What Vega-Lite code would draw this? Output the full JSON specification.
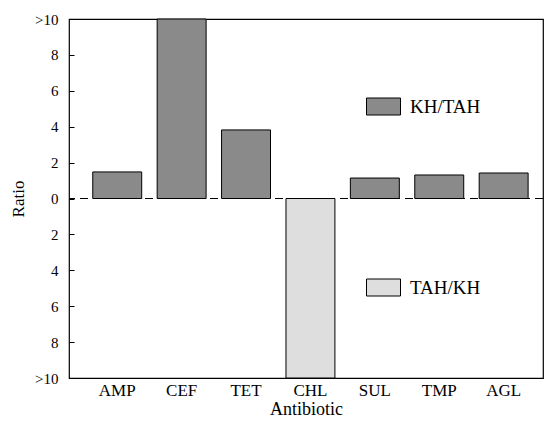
{
  "$schema": "https://vega.github.io/schema/vega-lite/v6.json",
  "width": 474,
  "height": 359,
  "autosize": "none",
  "padding": {"left": 69, "top": 19, "right": 4, "bottom": 44},
  "background": "white",
  "config": {
    "font": "Liberation Serif",
    "view": {"stroke": "#000", "strokeWidth": 1.2},
    "axis": {
      "grid": false,
      "domainColor": "#000",
      "tickColor": "#000",
      "labelColor": "#000",
      "titleColor": "#000",
      "labelFont": "Liberation Serif",
      "titleFont": "Liberation Serif",
      "titleFontWeight": "normal",
      "labelFontSize": 15,
      "titleFontSize": 17
    },
    "axisY": {
      "labelOverlap": false,
      "labelFlush": false,
      "ticks": true,
      "tickSize": 5,
      "tickWidth": 1,
      "offset": -5,
      "domain": false,
      "labelPadding": 11,
      "titlePadding": 7
    },
    "legend": {"labelFont": "Liberation Serif", "labelColor": "#000"}
  },
  "data": {
    "values": [
      {"Antibiotic": "AMP", "Ratio": 1.48, "Type": "KH/TAH"},
      {"Antibiotic": "CEF", "Ratio": 10, "Type": "KH/TAH"},
      {"Antibiotic": "TET", "Ratio": 3.82, "Type": "KH/TAH"},
      {"Antibiotic": "CHL", "Ratio": -10, "Type": "TAH/KH"},
      {"Antibiotic": "SUL", "Ratio": 1.14, "Type": "KH/TAH"},
      {"Antibiotic": "TMP", "Ratio": 1.31, "Type": "KH/TAH"},
      {"Antibiotic": "AGL", "Ratio": 1.42, "Type": "KH/TAH"}
    ]
  },
  "encoding": {
    "y": {
      "field": "Ratio",
      "type": "quantitative",
      "scale": {"domain": [-10, 10], "nice": false},
      "axis": {
        "values": [-10, -8, -6, -4, -2, 0, 2, 4, 6, 8, 10],
        "labelExpr": "abs(datum.value) == 10 ? '>10' : '' + abs(datum.value)",
        "labelOverlap": false,
        "labelFlush": false,
        "offset": -5,
        "domain": false,
        "ticks": true,
        "tickSize": 5,
        "labelPadding": 11,
        "labelFontSize": 15,
        "title": "Ratio",
        "titleFontSize": 17,
        "titlePadding": 7
      }
    }
  },
  "layer": [
    {
      "mark": {"type": "bar", "stroke": "#000", "strokeWidth": 1},
      "encoding": {
        "x": {
          "field": "Antibiotic",
          "type": "nominal",
          "sort": null,
          "scale": {"paddingInner": 0.24, "paddingOuter": 0.3, "align": 0.615},
          "axis": {"labelAngle": 0, "ticks": false, "domain": false, "labelFontSize": 17, "labelPadding": 4, "titleFontSize": 18, "titlePadding": 2, "title": "Antibiotic"}
        },
        "fill": {
          "field": "Type",
          "type": "nominal",
          "scale": {"domain": ["KH/TAH", "TAH/KH"], "range": ["#8a8a8a", "#dedede"]},
          "legend": {
            "title": null,
            "orient": "none",
            "legendX": 297,
            "legendY": 70,
            "symbolType": "M-1,-0.5H1V0.5H-1Z",
            "symbolSize": 1156,
            "symbolStrokeColor": "#000",
            "symbolStrokeWidth": 1,
            "symbolOpacity": 1,
            "labelFontSize": 19,
            "labelOffset": 9,
            "rowPadding": 153
          }
        }
      }
    },
    {
      "mark": {"type": "rule", "strokeDash": [8, 5], "color": "#000", "strokeWidth": 1},
      "encoding": {"y": {"datum": 0, "type": "quantitative"}}
    }
  ]
}
